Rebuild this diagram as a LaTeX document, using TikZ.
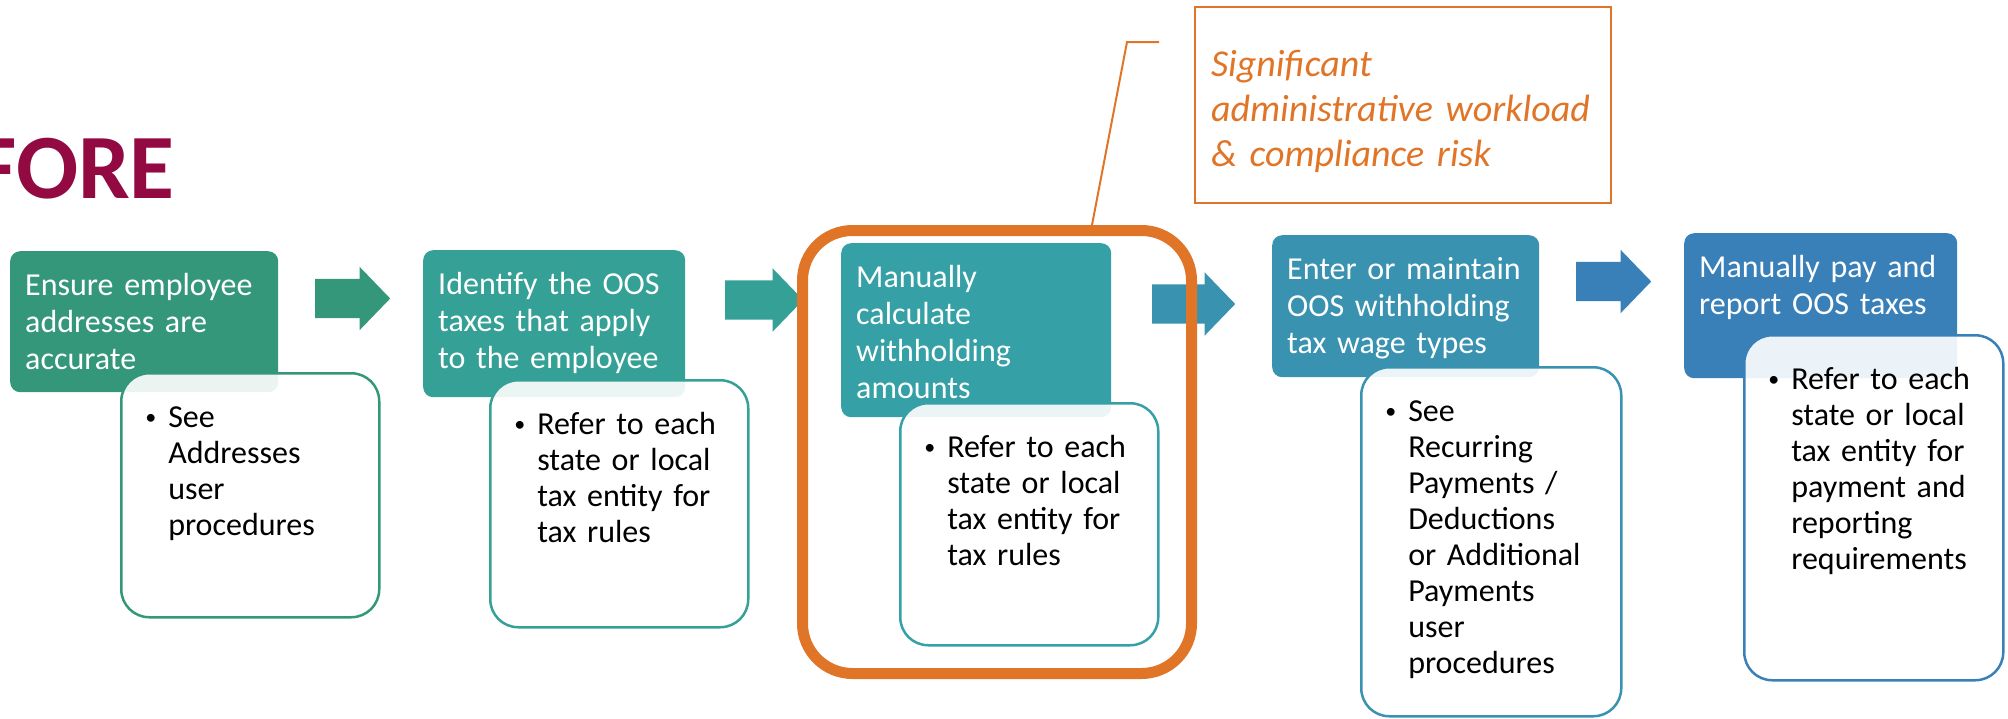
\documentclass[tikz,border=0pt]{standalone}
\usepackage{fontspec}
\setmainfont{Carlito}
\usetikzlibrary{shapes,calc}

\definecolor{stepA}{HTML}{35977A}
\definecolor{stepB}{HTML}{35A096}
\definecolor{stepC}{HTML}{35A0A5}
\definecolor{stepD}{HTML}{3892B0}
\definecolor{stepE}{HTML}{3A80B8}
\definecolor{alert}{HTML}{E07528}
\definecolor{titlered}{HTML}{930A42}

\newcommand{\notebullet}{\makebox[35pt]{\raisebox{2.5pt}{\fontsize{22}{22}\selectfont\textbullet}}}

\begin{document}
\begin{tikzpicture}[x=1pt,y=-1pt,
	head/.style={anchor=north west,fill=#1,text=white,rounded corners=10pt,
		inner xsep=15pt,inner ysep=0pt,text height=44pt,align=left,
		font=\fontsize{32}{37}\selectfont},
	note/.style={anchor=north west,draw=#1,fill=white,fill opacity=0.9,text opacity=1,
		line width=2.5pt,rounded corners=28pt,inner xsep=12pt,inner ysep=0pt,
		text height=54pt,align=left,font=\fontsize{32}{36}\selectfont},
	flow/.style={shape=single arrow,anchor=tail,fill=#1,single arrow head extend=12pt,
		single arrow head indent=0pt,single arrow tip angle=92,inner sep=0pt,
		text height=39pt,text depth=0pt,minimum height=75pt},
	focusbox/.style={draw=alert,line width=11pt,rounded corners=50pt,inner sep=0pt,
		minimum width=389pt,minimum height=443pt},
	leader/.style={draw=alert,line width=2pt},
	callout/.style={anchor=north west,draw=alert,line width=2pt,text=alert,
		inner xsep=16pt,inner ysep=0pt,text width=384pt,text height=69pt,text depth=127pt,
		align=left,font=\fontsize{38}{45}\selectfont\itshape},
	banner/.style={anchor=base east,inner sep=0pt,text=titlered,
		font=\fontsize{92}{100}\selectfont\bfseries}]
	\useasboundingbox (0,0) rectangle (2008,718);

	\node[banner] (before) at (175,198) {BEFORE};

	% steps
	\node[head=stepA,text width=238pt,text depth=97pt] (h1) at (10,251) {Ensure employee\\addresses are\\accurate};
	\node[head=stepB,text width=232pt,text depth=103pt] (h2) at (423,250) {Identify the OOS\\taxes that apply\\to the employee};
	\node[head=stepC,text width=240pt,text depth=130pt] (h3) at (841,243) {Manually\\calculate\\withholding\\amounts};
	\node[head=stepD,text width=237pt,text depth=98pt] (h4) at (1272,235) {Enter or maintain\\OOS withholding\\tax wage types};
	\node[head=stepE,text width=243pt,text depth=101pt] (h5) at (1684,233) {Manually pay and\\report OOS taxes};

	% notes
	\node[note=stepA,text width=234pt,text depth=190pt] (d1) at (120,372) {\begin{tabular}[t]{@{}l@{}l@{}}
		\notebullet&See\\&Addresses\\&user\\&procedures\end{tabular}};
	\node[note=stepB,text width=234pt,text depth=193pt] (d2) at (489,379) {\begin{tabular}[t]{@{}l@{}l@{}}
		\notebullet&Refer to each\\&state or local\\&tax entity for\\&tax rules\end{tabular}};
	\node[note=stepC,text width=234pt,text depth=188pt] (d3) at (899,402) {\begin{tabular}[t]{@{}l@{}l@{}}
		\notebullet&Refer to each\\&state or local\\&tax entity for\\&tax rules\end{tabular}};
	\node[note=stepD,text width=236pt,text depth=295pt] (d4) at (1360,366) {\begin{tabular}[t]{@{}l@{}l@{}}
		\notebullet&See\\&Recurring\\&Payments /\\&Deductions\\&or Additional\\&Payments\\&user\\&procedures\end{tabular}};
	\node[note=stepE,text width=235pt,text depth=291pt] (d5) at (1743,334) {\begin{tabular}[t]{@{}l@{}l@{}}
		\notebullet&Refer to each\\&state or local\\&tax entity for\\&payment and\\&reporting\\&requirements\end{tabular}};

	% arrows
	\node[flow=stepA] (a1) at (315,298.5) {};
	\node[flow=stepB,minimum height=78pt] (a2) at (725,300) {};
	\node[flow=stepD,minimum height=83pt] (a3) at (1152,304) {};
	\node[flow=stepE] (a4) at (1576,281.5) {};

	% highlight
	\node[focusbox] (focus) at (997,452) {};
	\coordinate (bend) at (1127,42);
	\coordinate (tail) at (1159,42);
	\draw[leader] ($(focus.north)+(95,0)$) -- (bend) -- (tail);
	\node[callout] (risk) at (1194,6) {Significant\\administrative workload\\\& compliance risk};
\end{tikzpicture}
\end{document}
